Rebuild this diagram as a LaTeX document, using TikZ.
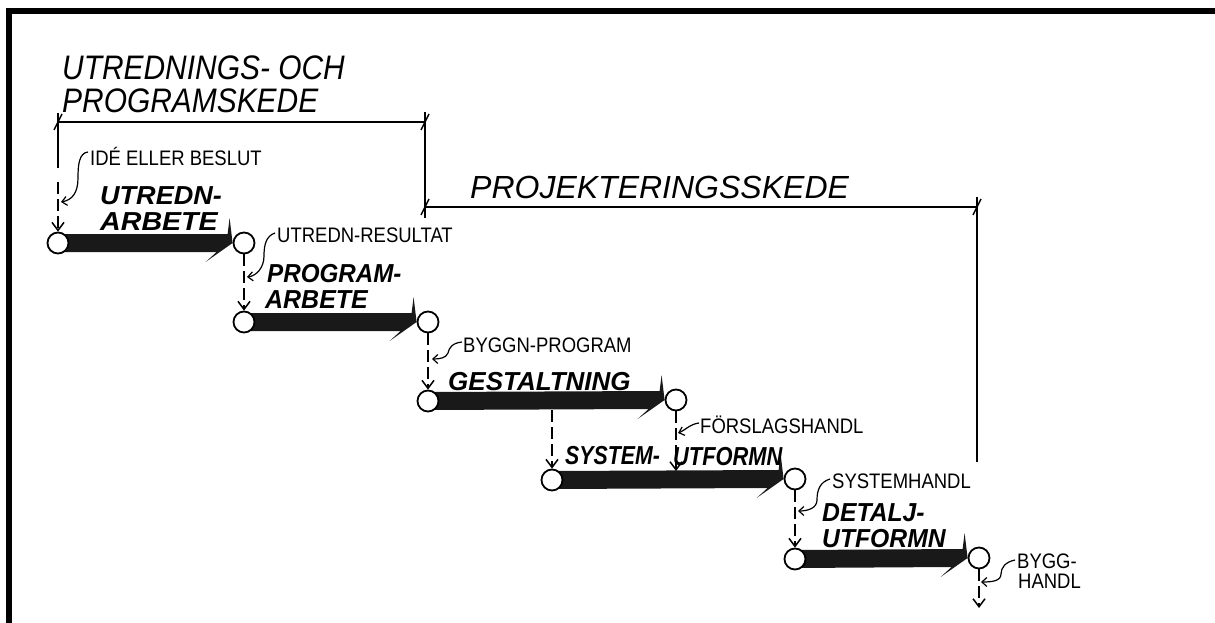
\documentclass[tikz,border=0pt]{standalone}
\usepackage{fontspec}
\newfontfamily\handfont{Liberation Sans}
\usetikzlibrary{arrows.meta, calc}
\pgfdeclarelayer{bg}
\pgfsetlayers{bg,main}

\tikzset{
  stage/.style={circle, draw, line width=1.8pt, fill=white, minimum size=21pt, inner sep=0pt},
  actbar/.style={fill=black!90},
  flow/.style={line width=1.5pt, dash pattern=on 12pt off 5pt, -{Straight Barb[length=8pt,width=12pt]}},
  leader/.style={line width=1.2pt, -{Straight Barb[length=5pt,width=9pt]}},
  dim/.style={line width=1.4pt},
  phase/.style={inner sep=0pt, anchor=base west, font={\handfont\itshape\fontsize{34}{34}\selectfont\addfontfeature{FakeStretch=#1}}},
  phase/.default=0.88,
  act/.style={inner sep=0pt, anchor=base west, font={\handfont\bfseries\itshape\fontsize{26}{26}\selectfont\addfontfeature{FakeStretch=#1}}},
  act/.default=0.95,
  doc/.style={inner sep=0pt, anchor=base west, font={\handfont\fontsize{21}{21}\selectfont\addfontfeature{FakeStretch=#1}}},
  doc/.default=0.88,
}

\begin{document}
\begin{tikzpicture}[x=1pt, y=-1pt]
    \useasboundingbox (0,0) rectangle (1215,623);
    % frame
    \fill (6,8) rectangle (1215,14);
    \fill (6,8) rectangle (12,623);

    % stages
    \node[stage] (c1) at (58,243) {};
    \node[stage] (c2) at (244,243) {};
    \node[stage] (c3) at (244,322) {};
    \node[stage] (c4) at (428,322) {};
    \node[stage] (c5) at (428,401) {};
    \node[stage] (c6) at (676,400) {};
    \node[stage] (c7) at (552,480) {};
    \node[stage] (c8) at (795,479) {};
    \node[stage] (c9) at (795,559) {};
    \node[stage] (c10) at (979,558) {};

    % activity arrows
    \begin{pgfonlayer}{bg}
    \foreach \a/\b in {c1/c2, c3/c4, c5/c6, c7/c8, c9/c10}
        \fill[actbar] ($(\a.center)+(0,-9)$) -- ($(\b.west)+(-5,-9)$) -- ($(\b.west)+(-3,-25)$)
            -- (\b.west) -- ($(\b.west)+(-27,19)$) -- ($(\b.west)+(-16,9)$) -- ($(\a.center)+(0,9)$) -- cycle;
    \end{pgfonlayer}

    % phase dimension lines
    \coordinate (d1l) at (58,122);
    \coordinate (d1r) at (425,122);
    \coordinate (d2l) at (425,207);
    \coordinate (d2r) at (977,207);
    \coordinate (d1ltop) at (58,113);
    \coordinate (d1lbot) at (58,168);
    \coordinate (d1rtop) at (425,112);
    \coordinate (d1rbot) at (425,218);
    \coordinate (d2rtop) at (977,197);
    \coordinate (d2rbot) at (977,462);
    \draw[dim] (d1l) -- (d1r);
    \draw[dim] (d2l) -- (d2r);
    \draw[dim] (d1ltop) -- (d1lbot);
    \draw[dim] (d1rtop) -- (d1rbot);
    \draw[dim] (d2rtop) -- (d2rbot);
    \foreach \p in {d1l, d1r, d2l, d2r}
        \draw[dim] ($(\p)+(-4,8)$) -- ($(\p)+(4,-8)$);

    % phase labels
    \node[phase] (ph1) at (62,80) {UTREDNINGS- OCH};
    \node[phase] (ph2) at (62,113) {PROGRAMSKEDE};
    \node[phase=1, font={\handfont\itshape\fontsize{32}{32}\selectfont}] (ph3) at (470,198) {PROJEKTERINGSSKEDE};

    % flow between stages
    \coordinate (f1) at (58,182);
    \coordinate (g1) at (552,410);
    \coordinate (s1) at (676,471);
    \coordinate (out) at (979,608);
    \draw[flow] (f1) -- (c1);
    \draw[flow] (c2) -- (c3);
    \draw[flow] (c4) -- (c5);
    \draw[flow] (g1) -- (c7);
    \draw[flow] (c6) -- (s1);
    \draw[flow] (c8) -- (c9);
    \draw[flow] (c10) -- (out);

    % activity labels
    \node[act=1.04] (a1a) at (100,204) {UTREDN-};
    \node[act=1.1] (a1b) at (100,230) {ARBETE};
    \node[act=0.93] (a2a) at (267,282) {PROGRAM-};
    \node[act=0.96] (a2b) at (265,308) {ARBETE};
    \node[act=1] (a3) at (448,390) {GESTALTNING};
    \node[act=0.82] (a4a) at (565,464) {SYSTEM-};
    \node[act=0.84] (a4b) at (673,465) {UTFORMN};
    \node[act] (a5a) at (822,521) {DETALJ-};
    \node[act] (a5b) at (822,547) {UTFORMN};

    % documents with leaders
    \node[doc] (idea) at (90,165) {IDÉ ELLER BESLUT};
    \node[doc] (rs) at (277,242) {UTREDN-RESULTAT};
    \node[doc] (bp) at (463,352) {BYGGN-PROGRAM};
    \node[doc] (fh) at (700,433) {FÖRSLAGSHANDL};
    \node[doc] (sh) at (832,488) {SYSTEMHANDL};
    \node[doc] (bh1) at (1017,568) {BYGG-};
    \node[doc] (bh2) at (1018,588) {HANDL};
    \coordinate (t1) at (61,202);
    \coordinate (t2) at (247,277);
    \coordinate (t3) at (432,359);
    \coordinate (t4) at (678,433);
    \coordinate (t5) at (798,511);
    \coordinate (t6) at (981,582);
    \draw[leader] ($(idea.base west)+(-2,-13)$) .. controls (79,153) and (78,165) .. (78,178)
        .. controls (78,193) and (72,200) .. (t1);
    \draw[leader] ($(rs.base west)+(-2,-9)$) .. controls (266,236) and (264,245) .. (264,256)
        .. controls (264,268) and (256,276) .. (t2);
    \draw[leader] ($(bp.base west)+(-1,-10)$) .. controls (452,343) and (449,348) .. (448,353)
        .. controls (446,358) and (440,359) .. (t3);
    \draw[leader] ($(fh.base west)+(-1,-10)$) .. controls (690,424) and (684,431) .. (t4);
    \draw[leader] ($(sh.base west)+(-2,-9)$) .. controls (820,482) and (817,490) .. (817,500)
        .. controls (817,508) and (808,511) .. (t5);
    \draw[leader] ($(bh1.base west)+(-2,-8)$) .. controls (1005,562) and (1001,568) .. (1001,574)
        .. controls (1001,581) and (992,582) .. (t6);
\end{tikzpicture}
\end{document}
